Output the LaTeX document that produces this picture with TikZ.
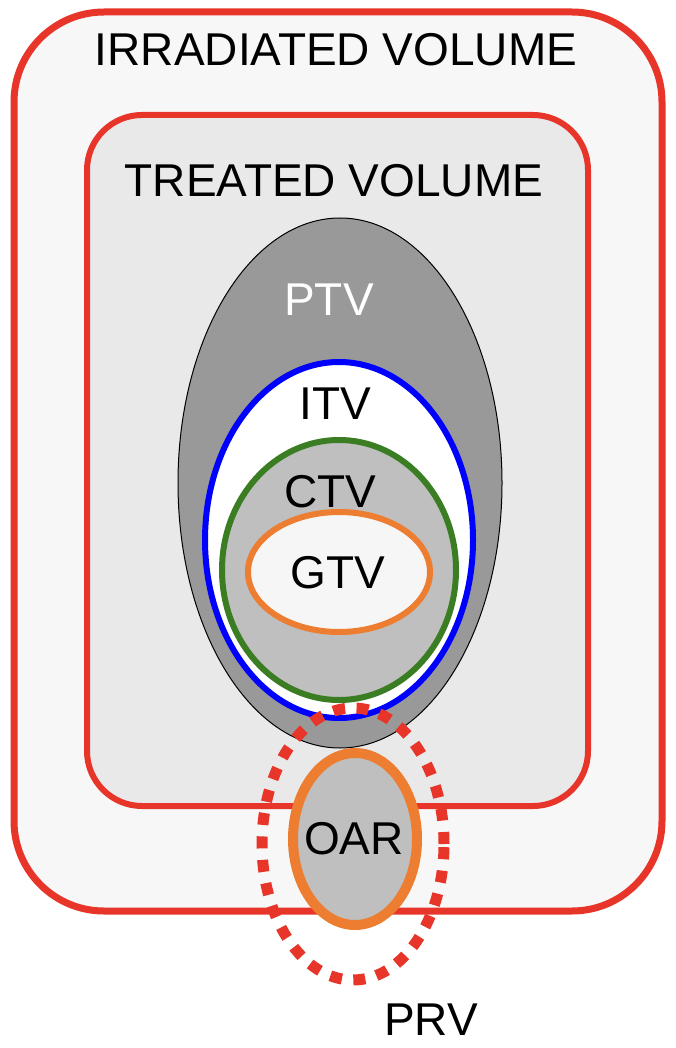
\documentclass[tikz,border=0pt]{standalone}
\usepackage{fontspec}
\setmainfont{Liberation Sans}
\usetikzlibrary{positioning}
\definecolor{VolRed}{RGB}{232,53,42}
\definecolor{ItvBlue}{RGB}{0,0,255}
\definecolor{CtvGreen}{RGB}{58,125,34}
\definecolor{GtvOrange}{RGB}{237,125,49}

\begin{document}
\begin{tikzpicture}[x=1pt, y=-1pt,
	vollabel/.style={font=\fontsize{46}{50}\selectfont, inner sep=0pt}]
	\useasboundingbox (0,0) rectangle (676,1048);
	% irradiated and treated volumes
	\draw[VolRed, line width=7pt, fill=gray!6, rounded corners=90pt] (14,12) rectangle (662,911);
	\draw[VolRed, line width=6pt, fill=gray!17, rounded corners=55pt] (87,115) rectangle (588,806);
	% nested target volumes
	\draw[black, fill=gray!80, line width=1pt] (340,483) ellipse [x radius=162pt, y radius=265pt];
	\draw[ItvBlue, fill=white, line width=6pt] (339,540) ellipse [x radius=134pt, y radius=178pt];
	\draw[CtvGreen, fill=gray!50, line width=6pt] (339,570) ellipse [x radius=117pt, y radius=130pt];
	\draw[GtvOrange, fill=gray!7, line width=6pt] (339,572) ellipse [x radius=91pt, y radius=60pt];
	% organ at risk and its margin
	\draw[GtvOrange, fill=gray!50, line width=10pt] (355,839) ellipse [x radius=62pt, y radius=86pt];
	\draw[VolRed, line width=11pt, dash pattern=on 12pt off 11.5pt] (353,844) ellipse [x radius=91pt, y radius=136pt];
	% labels
	\node[vollabel] (irr) at (336,50) {IRRADIATED VOLUME};
	\node[vollabel] (trt) at (334,181) {TREATED VOLUME};
	\node[vollabel, white] (ptv) at (329,300) {PTV};
	\node[vollabel] (itv) at (335,404) {ITV};
	\node[vollabel] (ctv) at (330,492) {CTV};
	\node[vollabel] (gtv) at (338,573) {GTV};
	\node[vollabel] (oar) at (354,839) {OAR};
	\node[vollabel] (prv) at (431,1020) {PRV};
\end{tikzpicture}
\end{document}
